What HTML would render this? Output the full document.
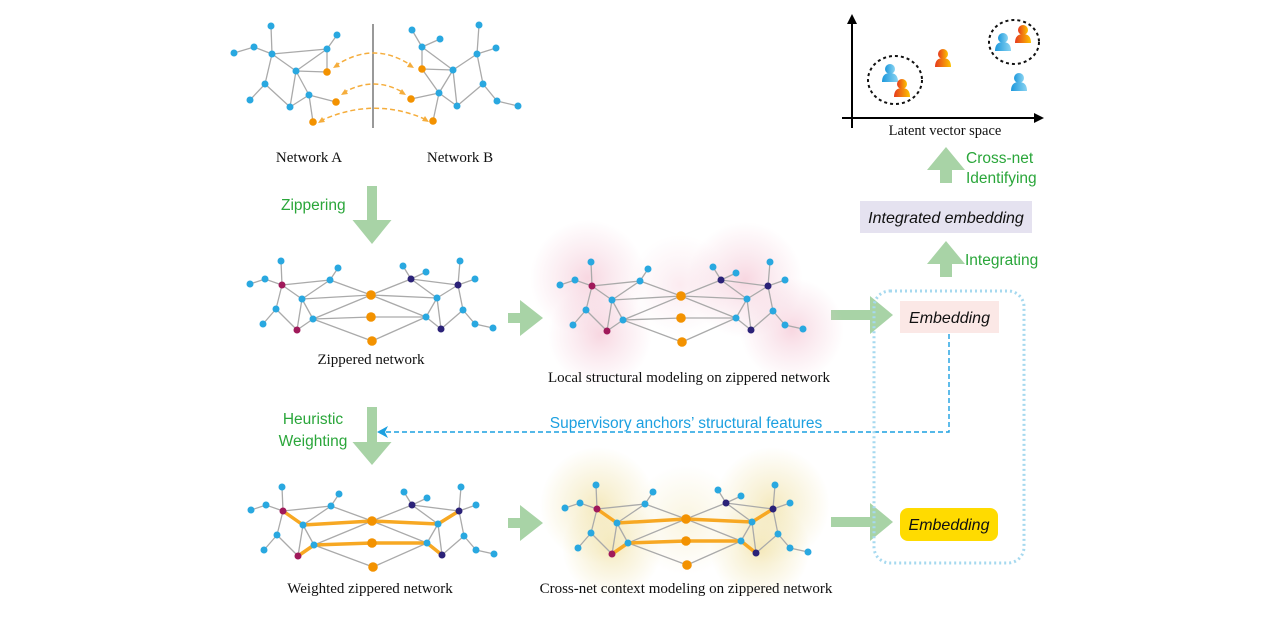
<!DOCTYPE html>
<html><head><meta charset="utf-8"><style>
html,body{margin:0;padding:0;background:#fff;}
svg{display:block;}
.s{font-family:"Liberation Serif",serif;font-size:15px;fill:#111;}
.g{font-family:"Liberation Sans",sans-serif;font-size:15.5px;fill:#2aa63a;}
.b{font-family:"Liberation Sans",sans-serif;font-size:15.5px;fill:#1ca0e0;}
.e{font-family:"Liberation Sans",sans-serif;font-size:16px;font-style:italic;fill:#111;}
</style></head><body>
<svg width="1283" height="620" viewBox="0 0 1283 620" xmlns="http://www.w3.org/2000/svg">
<defs>
<radialGradient id="pk"><stop offset="0" stop-color="#f2b6c8" stop-opacity=".55"/><stop offset=".5" stop-color="#f2c2d2" stop-opacity=".3"/><stop offset="1" stop-color="#f2c2d2" stop-opacity="0"/></radialGradient>
<radialGradient id="yl"><stop offset="0" stop-color="#efdc95" stop-opacity=".6"/><stop offset=".5" stop-color="#f0e2a8" stop-opacity=".35"/><stop offset="1" stop-color="#f0e2a8" stop-opacity="0"/></radialGradient>
<linearGradient id="bl" x1="0" y1="0" x2="1" y2="0"><stop offset="0" stop-color="#1c98dc"/><stop offset="1" stop-color="#8ad4f2"/></linearGradient>
<linearGradient id="or" x1="0" y1="0" x2="1" y2="0"><stop offset="0" stop-color="#e63a1e"/><stop offset="1" stop-color="#fdc300"/></linearGradient>
<g id="ze"><path fill="none" stroke="#aaa" stroke-width="1.3" d="M281 261L282 285 M250 284L265 279L282 285 M282 285L330 280L338 268 M282 285L302 299 M282 285L276 309L263 324 M276 309L297 330 M302 299L297 330L313 319 M302 299L313 319 M330 280L302 299 M330 280L371 295 M302 299L371 295 M313 319L371 295 M313 319L371 317 M313 319L372 341 M371 295L411 279 M371 295L437 298 M371 295L426 317 M371 317L426 317 M372 341L426 317 M411 279L403 266 M411 279L426 272 M411 279L458 285 M411 279L437 298 M458 285L460 261 M458 285L475 279 M458 285L437 298 M437 298L426 317 M437 298L441 329 M426 317L441 329 M458 285L463 310L441 329 M463 310L475 324L493 328"/></g>
<g id="zo"><path fill="none" stroke="#f7a823" stroke-width="3.5" stroke-linejoin="round" d="M282 285L302 299L371 295L437 298L458 285 M297 330L313 319L371 317L426 317L441 329"/></g>
<g id="zn">
<g fill="#29a8e0"><circle cx="281" cy="261" r="3.5"/><circle cx="250" cy="284" r="3.5"/><circle cx="265" cy="279" r="3.5"/><circle cx="330" cy="280" r="3.5"/><circle cx="338" cy="268" r="3.5"/><circle cx="302" cy="299" r="3.5"/><circle cx="276" cy="309" r="3.5"/><circle cx="263" cy="324" r="3.5"/><circle cx="313" cy="319" r="3.5"/><circle cx="403" cy="266" r="3.5"/><circle cx="426" cy="272" r="3.5"/><circle cx="460" cy="261" r="3.5"/><circle cx="475" cy="279" r="3.5"/><circle cx="437" cy="298" r="3.5"/><circle cx="463" cy="310" r="3.5"/><circle cx="426" cy="317" r="3.5"/><circle cx="475" cy="324" r="3.5"/><circle cx="493" cy="328" r="3.5"/></g>
<g fill="#a0195a"><circle cx="282" cy="285" r="3.5"/><circle cx="297" cy="330" r="3.5"/></g>
<g fill="#2b2278"><circle cx="411" cy="279" r="3.5"/><circle cx="458" cy="285" r="3.5"/><circle cx="441" cy="329" r="3.5"/></g>
<g fill="#f39200"><circle cx="371" cy="295" r="4.8"/><circle cx="371" cy="317" r="4.8"/><circle cx="372" cy="341" r="4.8"/></g>
</g>
<g id="pb"><circle cx="0" cy="-4" r="5"/><path d="M-8 9 Q-8 0 0 0 Q8 0 8 9 Z"/></g>
</defs>

<!-- Network A / B -->
<path fill="none" stroke="#aaa" stroke-width="1.3" d="M271 26L272 54 M234 53L254 47L272 54 M272 54L327 49L337 35 M272 54L296 71 M296 71L327 49 M327 49L327 72 M296 71L327 72 M272 54L265 84L250 100 M265 84L290 107 M296 71L290 107 M296 71L309 95 M290 107L309 95 M309 95L336 102 M309 95L313 122
M412 30L422 47 M440 39L422 47 M422 47L422 69 M422 47L453 70 M453 70L477 54 M477 54L479 25 M477 54L496 48 M422 69L453 70 M453 70L439 93 M453 70L457 106 M422 69L439 93 M439 93L411 99 M439 93L433 121 M439 93L457 106 M477 54L483 84L457 106 M483 84L497 101L518 106"/>
<line x1="373" y1="24" x2="373" y2="128" stroke="#777" stroke-width="1.5"/>
<g fill="#29a8e0"><circle cx="271" cy="26" r="3.5"/><circle cx="234" cy="53" r="3.5"/><circle cx="254" cy="47" r="3.5"/><circle cx="272" cy="54" r="3.5"/><circle cx="337" cy="35" r="3.5"/><circle cx="327" cy="49" r="3.5"/><circle cx="296" cy="71" r="3.5"/><circle cx="265" cy="84" r="3.5"/><circle cx="250" cy="100" r="3.5"/><circle cx="290" cy="107" r="3.5"/><circle cx="309" cy="95" r="3.5"/>
<circle cx="412" cy="30" r="3.5"/><circle cx="440" cy="39" r="3.5"/><circle cx="422" cy="47" r="3.5"/><circle cx="479" cy="25" r="3.5"/><circle cx="496" cy="48" r="3.5"/><circle cx="477" cy="54" r="3.5"/><circle cx="453" cy="70" r="3.5"/><circle cx="483" cy="84" r="3.5"/><circle cx="439" cy="93" r="3.5"/><circle cx="457" cy="106" r="3.5"/><circle cx="497" cy="101" r="3.5"/><circle cx="518" cy="106" r="3.5"/></g>
<g fill="#f39200"><circle cx="327" cy="72" r="3.8"/><circle cx="336" cy="102" r="3.8"/><circle cx="313" cy="122" r="3.8"/><circle cx="422" cy="69" r="3.8"/><circle cx="411" cy="99" r="3.8"/><circle cx="433" cy="121" r="3.8"/></g>
<g fill="none" stroke="#f5ad3c" stroke-width="1.5" stroke-dasharray="5 3"><path d="M335 66 Q374 40 412 66"/><path d="M343 93 Q374 75 404 93"/><path d="M320 121 Q374 96 427 120"/></g>
<g fill="#f5ad3c"><path d="M333 68l7-1-3-5z"/><path d="M414 68l-7-1 3-5z"/><path d="M341 95l7-1-3-5z"/><path d="M406 95l-7-1 3-5z"/><path d="M318 123l7-1-3-5z"/><path d="M429 122l-7-1 3-5z"/></g>
<text class="s" x="309" y="162" text-anchor="middle">Network A</text>
<text class="s" x="460" y="162" text-anchor="middle">Network B</text>

<!-- green arrows -->
<g fill="#a8d3a6">
<path d="M367 186h10v34h14.5l-19.5 24-19.5-24h14.5z"/>
<path d="M367 407h10v35h14.5l-19.5 23-19.5-23h14.5z"/>
<path d="M508 313h12v-13l23 18-23 18v-13h-12z"/>
<path d="M508 518h12v-13l23 18-23 18v-13h-12z"/>
<path d="M831 310h39v-14l23 19-23 19v-14h-39z"/>
<path d="M831 517h39v-14l23 19-23 19v-14h-39z"/>
<path d="M940 183v-13h-13l19-23 19 23h-13v13z"/>
<path d="M940 277v-13h-13l19-23 19 23h-13v13z"/>
</g>
<text class="g" x="281" y="210">Zippering</text>
<text class="g" x="313" y="424" text-anchor="middle">Heuristic</text>
<text class="g" x="313" y="446" text-anchor="middle">Weighting</text>
<text class="g" x="966" y="163">Cross-net</text>
<text class="g" x="966" y="183">Identifying</text>
<text class="g" x="965" y="265">Integrating</text>

<!-- zippered -->
<use href="#ze"/><use href="#zn"/>
<text class="s" x="371" y="364" text-anchor="middle">Zippered network</text>

<!-- local structural -->
<g fill="url(#pk)"><circle cx="588" cy="278" r="58"/><circle cx="600" cy="335" r="52"/><circle cx="745" cy="280" r="58"/><circle cx="792" cy="330" r="52"/><circle cx="680" cy="285" r="50" opacity=".5"/></g>
<g transform="translate(310,1)"><use href="#ze"/><use href="#zn"/></g>
<text class="s" x="689" y="382" text-anchor="middle">Local structural modeling on zippered network</text>

<!-- weighted -->
<g transform="translate(1,226)"><use href="#ze"/><use href="#zo"/><use href="#zn"/></g>
<text class="s" x="370" y="593" text-anchor="middle">Weighted zippered network</text>

<!-- cross-net -->
<g fill="url(#yl)"><circle cx="598" cy="505" r="58"/><circle cx="612" cy="548" r="50"/><circle cx="772" cy="505" r="58"/><circle cx="760" cy="550" r="50"/><circle cx="686" cy="520" r="55" opacity=".5"/></g>
<g transform="translate(315,224)"><use href="#ze"/><use href="#zo"/><use href="#zn"/></g>
<text class="s" x="686" y="593" text-anchor="middle">Cross-net context modeling on zippered network</text>

<!-- supervisory dashed -->
<path d="M949 334V432H383" fill="none" stroke="#1ca0e0" stroke-width="1.4" stroke-dasharray="5 3"/>
<path d="M377 432l11-6-3 6 3 6z" fill="#1ca0e0"/>
<text class="b" x="686" y="428" text-anchor="middle">Supervisory anchors’ structural features</text>

<!-- dotted group -->
<rect x="874" y="291" width="150" height="272" rx="16" fill="none" stroke="#a6d9ef" stroke-width="3" stroke-dasharray="2 3"/>
<rect x="900" y="301" width="99" height="32" fill="#fbe8e6"/>
<text class="e" x="949.5" y="323" text-anchor="middle">Embedding</text>
<rect x="900" y="508" width="98" height="33" rx="8" fill="#ffdb00"/>
<text class="e" x="949" y="530" text-anchor="middle">Embedding</text>
<rect x="860" y="201" width="172" height="32" fill="#e5e2f0"/>
<text class="e" x="946" y="223" text-anchor="middle">Integrated embedding</text>

<!-- latent space -->
<path d="M852 128V22" stroke="#000" stroke-width="2"/><path d="M852 14l-5 10h10z"/>
<path d="M842 118H1036" stroke="#000" stroke-width="2"/><path d="M1044 118l-10-5v10z"/>
<text class="s" x="945" y="135" text-anchor="middle" style="font-size:14.5px">Latent vector space</text>
<g fill="none" stroke="#111" stroke-width="2" stroke-dasharray="3 3"><ellipse cx="895" cy="80" rx="27" ry="24"/><ellipse cx="1014" cy="42" rx="25" ry="22"/></g>
<use href="#pb" x="890" y="73" fill="url(#bl)"/>
<use href="#pb" x="902" y="88" fill="url(#or)"/>
<use href="#pb" x="943" y="58" fill="url(#or)"/>
<use href="#pb" x="1003" y="42" fill="url(#bl)"/>
<use href="#pb" x="1023" y="34" fill="url(#or)"/>
<use href="#pb" x="1019" y="82" fill="url(#bl)"/>
</svg>
</body></html>
